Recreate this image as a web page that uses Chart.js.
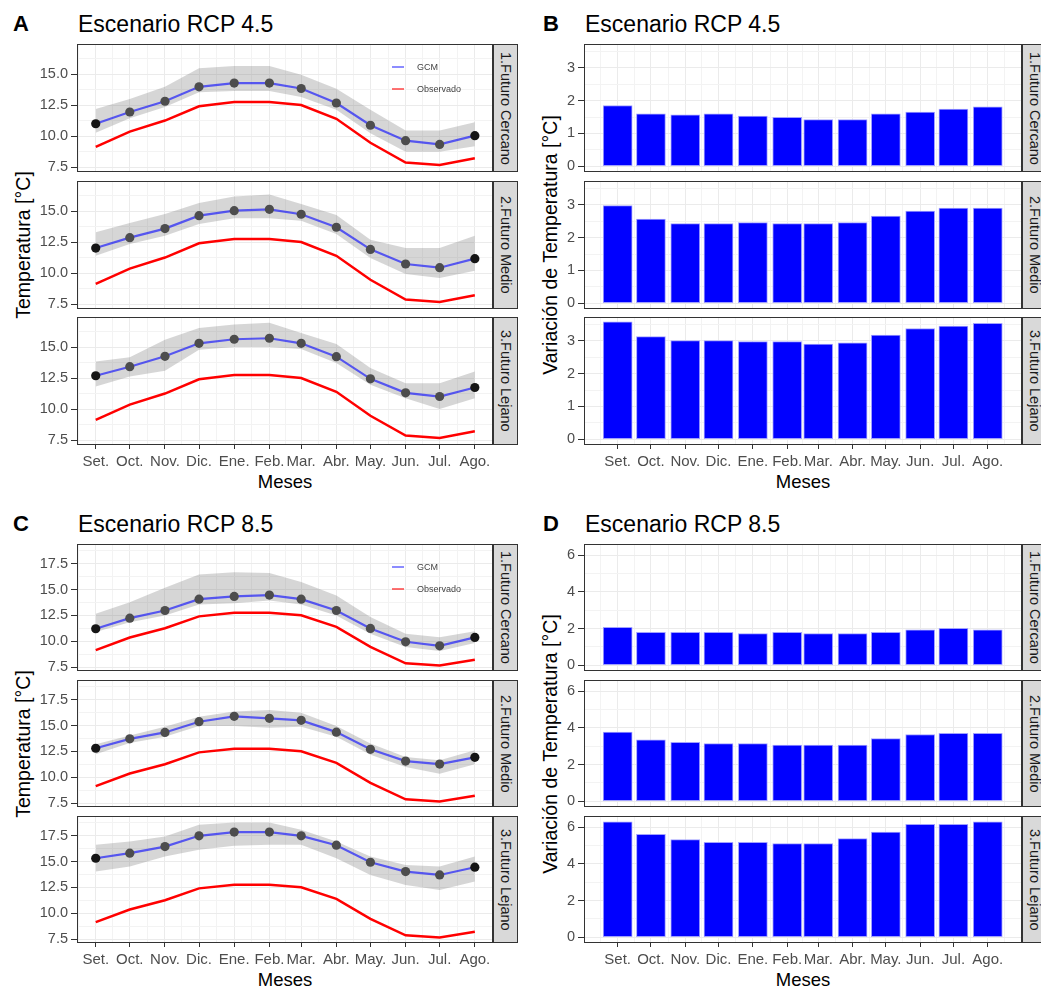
<!DOCTYPE html>
<html lang="es">
<head>
<meta charset="utf-8">
<title>Escenarios RCP 4.5 y 8.5</title>
<script src="https://cdn.jsdelivr.net/npm/chart.js@4.4.0/dist/chart.umd.min.js"></script>
<style>
  body { margin: 0; background: #fff; font-family: "Liberation Sans", Arial, sans-serif; }
  #fig { position: relative; width: 1041px; height: 989px; overflow: hidden; background: #fff; }
  .txt { position: absolute; white-space: nowrap; line-height: 1; color: #000; }
  .letra { font-size: 22px; font-weight: bold; transform: translateY(-50%); }
  .titulo { font-size: 23px; transform: translateY(-50%); }
  .ytit { font-size: 19.5px; transform: translate(-50%, -50%) rotate(-90deg); }
  .xtit { font-size: 18.5px; transform: translate(-50%, -50%); }
  .strip {
    position: absolute; box-sizing: border-box; background: #D9D9D9; border: 1px solid #333;
    display: flex; align-items: center; justify-content: center;
  }
  .strip span { writing-mode: vertical-rl; font-size: 14.5px; color: #1A1A1A; white-space: nowrap; }
  .clave { position: absolute; width: 12px; height: 2px; }
  .ley { font-size: 9px; color: #444; transform: translateY(-50%); }
</style>
</head>
<body>
<div id="fig"></div>
<script>
'use strict';

// ---- Datos ----

const MESES = ['Set.', 'Oct.', 'Nov.', 'Dic.', 'Ene.', 'Feb.', 'Mar.', 'Abr.', 'May.', 'Jun.', 'Jul.', 'Ago.'];
// días desde el 1 de setiembre (el eje x es de fechas)
const DIAS = [0, 30, 61, 91, 122, 153, 181, 212, 242, 273, 303, 334];
const FACETAS = ['1.Futuro Cercano', '2.Futuro Medio', '3.Futuro Lejano'];

const OBSERVADO = [9.14, 10.36, 11.26, 12.41, 12.76, 12.76, 12.52, 11.4, 9.46, 7.86, 7.66, 8.21];

// RCP 4.5 - temperatura media GCM y rango del ensamble
const GCM45_CERCANO     = [11.0, 11.95, 12.82, 13.99, 14.29, 14.29, 13.85, 12.68, 10.88, 9.63, 9.33, 10.04];
const GCM45_CERCANO_MAX = [12.19, 13.0, 14.0, 15.49, 15.68, 15.68, 14.97, 13.83, 12.14, 10.45, 10.45, 11.13];
const GCM45_CERCANO_MIN = [10.28, 11.45, 12.35, 13.55, 13.64, 13.64, 13.17, 12.14, 10.23, 8.73, 8.73, 9.19];
const GCM45_MEDIO       = [12.03, 12.87, 13.6, 14.65, 15.05, 15.16, 14.76, 13.71, 11.92, 10.74, 10.44, 11.17];
const GCM45_MEDIO_MAX   = [13.3, 14.06, 14.78, 15.67, 16.19, 16.35, 15.59, 14.7, 12.7, 12.03, 12.03, 13.03];
const GCM45_MEDIO_MIN   = [11.41, 12.36, 13.03, 13.97, 14.43, 14.43, 14.24, 13.17, 11.22, 9.93, 9.6, 10.2];
const GCM45_LEJANO      = [12.7, 13.43, 14.27, 15.32, 15.65, 15.73, 15.32, 14.24, 12.45, 11.32, 11.02, 11.75];
const GCM45_LEJANO_MAX  = [13.86, 14.19, 15.62, 16.57, 16.84, 16.98, 16.16, 15.27, 13.32, 12.1, 12.1, 13.05];
const GCM45_LEJANO_MIN  = [11.83, 12.64, 13.1, 14.81, 15.03, 15.03, 14.86, 13.73, 11.97, 10.88, 10.02, 10.88];

// RCP 8.5
const GCM85_CERCANO     = [11.21, 12.24, 12.98, 14.08, 14.34, 14.47, 14.08, 12.98, 11.24, 9.95, 9.56, 10.37];
const GCM85_CERCANO_MAX = [12.66, 13.79, 15.18, 16.47, 16.69, 16.6, 15.73, 14.44, 12.34, 10.73, 10.4, 10.98];
const GCM85_CERCANO_MIN = [10.89, 11.85, 12.5, 13.56, 13.69, 13.95, 13.56, 12.5, 10.73, 9.44, 9.05, 9.82];
const GCM85_MEDIO       = [12.81, 13.72, 14.34, 15.38, 15.9, 15.71, 15.51, 14.37, 12.71, 11.57, 11.28, 11.93];
const GCM85_MEDIO_MAX   = [13.2, 14.05, 14.89, 15.87, 16.36, 16.52, 16.26, 14.96, 13.27, 11.96, 11.64, 12.62];
const GCM85_MEDIO_MIN   = [12.22, 13.33, 13.92, 14.96, 14.96, 14.8, 14.89, 13.92, 12.19, 10.99, 10.33, 11.25];
const GCM85_LEJANO      = [15.33, 15.82, 16.46, 17.5, 17.86, 17.86, 17.5, 16.59, 14.94, 14.04, 13.71, 14.46];
const GCM85_LEJANO_MAX  = [16.63, 16.95, 17.44, 18.57, 18.79, 18.79, 18.08, 16.95, 15.49, 14.68, 14.52, 15.49];
const GCM85_LEJANO_MIN  = [14.04, 14.52, 15.49, 16.14, 16.53, 16.63, 16.63, 15.33, 13.71, 12.74, 12.26, 13.07];

// Variación de temperatura respecto al observado
const VAR45_CERCANO = [1.85, 1.6, 1.57, 1.6, 1.53, 1.49, 1.42, 1.42, 1.6, 1.65, 1.74, 1.81];
const VAR45_MEDIO   = [2.98, 2.57, 2.43, 2.43, 2.46, 2.43, 2.43, 2.46, 2.66, 2.81, 2.9, 2.9];
const VAR45_LEJANO  = [3.58, 3.13, 3.01, 3.01, 2.98, 2.98, 2.9, 2.94, 3.18, 3.38, 3.45, 3.54];
const VAR85_CERCANO = [2.06, 1.79, 1.79, 1.79, 1.72, 1.79, 1.72, 1.72, 1.79, 1.93, 2.01, 1.93];
const VAR85_MEDIO   = [3.78, 3.35, 3.21, 3.14, 3.14, 3.06, 3.06, 3.06, 3.42, 3.64, 3.71, 3.71];
const VAR85_LEJANO  = [6.3, 5.62, 5.33, 5.18, 5.18, 5.11, 5.11, 5.38, 5.74, 6.16, 6.16, 6.3];

const Y_TEMP45 = [7.5, 10, 12.5, 15];
const Y_TEMP85 = [7.5, 10, 12.5, 15, 17.5];
const Y_VAR45  = [0, 1, 2, 3];
const Y_VAR85  = [0, 2, 4, 6];

// ---- Layout ----

const COLS = [
  { x: 77, w: 416, letraX: 13, ytitX: 24 },
  { x: 584, w: 438, letraX: 543, ytitX: 551 },
];
const FILAS = [
  { tops: [44, 181, 317], h: 128, tituloY: 23.5, mesesY: 482 },
  { tops: [544, 680, 816], h: 127, tituloY: 523.5, mesesY: 980 },
];
const STRIP_W = 25;
const YW = 52, XH = 28, PT = 2, PR = 2;
const X_LINEA = [-16.5, 350];
const X_BARRA = [-30.4, 364.9];

const PANELES = [
  { letra: 'A', titulo: 'Escenario RCP 4.5', tipo: 'linea', col: 0, fila: 0, ytit: 'Temperatura [°C]',
    y: [7.1, 17.45], mayores: Y_TEMP45, dec: 1,
    series: [[GCM45_CERCANO, GCM45_CERCANO_MIN, GCM45_CERCANO_MAX],
             [GCM45_MEDIO, GCM45_MEDIO_MIN, GCM45_MEDIO_MAX],
             [GCM45_LEJANO, GCM45_LEJANO_MIN, GCM45_LEJANO_MAX]] },
  { letra: 'B', titulo: 'Escenario RCP 4.5', tipo: 'barra', col: 1, fila: 0, ytit: 'Variación de Temperatura [°C]',
    y: [-0.18, 3.73], mayores: Y_VAR45, dec: 0,
    series: [VAR45_CERCANO, VAR45_MEDIO, VAR45_LEJANO] },
  { letra: 'C', titulo: 'Escenario RCP 8.5', tipo: 'linea', col: 0, fila: 1, ytit: 'Temperatura [°C]',
    y: [7.12, 19.42], mayores: Y_TEMP85, dec: 1,
    series: [[GCM85_CERCANO, GCM85_CERCANO_MIN, GCM85_CERCANO_MAX],
             [GCM85_MEDIO, GCM85_MEDIO_MIN, GCM85_MEDIO_MAX],
             [GCM85_LEJANO, GCM85_LEJANO_MIN, GCM85_LEJANO_MAX]] },
  { letra: 'D', titulo: 'Escenario RCP 8.5', tipo: 'barra', col: 1, fila: 1, ytit: 'Variación de Temperatura [°C]',
    y: [-0.32, 6.62], mayores: Y_VAR85, dec: 0,
    series: [VAR85_CERCANO, VAR85_MEDIO, VAR85_LEJANO] },
];

const fig = document.getElementById('fig');
Chart.defaults.font.family = '"Liberation Sans", Arial, sans-serif';

// ---- Helpers ----

function texto(cls, str, x, y) {
  const el = document.createElement('div');
  el.className = 'txt ' + cls;
  el.textContent = str;
  el.style.left = x + 'px';
  el.style.top = y + 'px';
  fig.appendChild(el);
  return el;
}

function puntos(arr) {
  return DIAS.map((d, i) => ({ x: d, y: arr[i] }));
}

// marcas menores a mitad de camino entre las mayores
function conMenores(mayores, min, max) {
  const paso = mayores[1] - mayores[0];
  const ext = [mayores[0] - paso, ...mayores, mayores[mayores.length - 1] + paso];
  const todas = [];
  for (let i = 0; i < ext.length; i++) {
    todas.push(ext[i]);
    if (i < ext.length - 1) todas.push((ext[i] + ext[i + 1]) / 2);
  }
  return todas.filter(v => v >= min && v <= max);
}

const X_MAYORES = [-31, ...DIAS, 365];

const marcoPanel = {
  id: 'marcoPanel',
  afterDraw(chart) {
    const a = chart.chartArea, ctx = chart.ctx;
    ctx.save();
    ctx.strokeStyle = '#333333';
    ctx.lineWidth = 1;
    ctx.strokeRect(a.left + 0.5, a.top + 0.5, a.right - a.left - 1, a.bottom - a.top - 1);
    ctx.restore();
  },
};

const valorTick = c => (c && c.tick ? c.tick.value : NaN);

// ---- Facetas ----

function crearFaceta(p, k) {
  const col = COLS[p.col], fila = FILAS[p.fila];
  const abajo = k === 2;
  const top = fila.tops[k];
  const xh = abajo ? XH : 0;
  const w = YW + col.w + PR, h = PT + fila.h + xh;

  const canvas = document.createElement('canvas');
  canvas.width = w;
  canvas.height = h;
  canvas.style.cssText = `position:absolute;left:${col.x - YW}px;top:${top - PT}px;width:${w}px;height:${h}px`;
  fig.appendChild(canvas);

  const xr = p.tipo === 'linea' ? X_LINEA : X_BARRA;
  const xTicks = conMenores(X_MAYORES, xr[0], xr[1]);
  const yTicks = conMenores(p.mayores, p.y[0], p.y[1]);
  const esMayorX = v => X_MAYORES.includes(v);
  const esMayorY = v => p.mayores.includes(v);

  let datasets;
  if (p.tipo === 'linea') {
    const [media, lo, hi] = p.series[k];
    datasets = [
      {
        label: 'GCM', data: puntos(media),
        borderColor: 'rgba(0,0,255,0.6)', borderWidth: 2.2,
        pointRadius: 4.6, pointBorderWidth: 0,
        pointBackgroundColor: c => (c.dataIndex === 0 || c.dataIndex === DIAS.length - 1) ? '#151515' : '#4D4D4D',
        tension: 0, fill: false,
      },
      {
        label: 'Observado', data: puntos(OBSERVADO),
        borderColor: '#FF0000', borderWidth: 2.5, pointRadius: 0, tension: 0, fill: false,
      },
      {
        label: 'max', data: puntos(hi), borderWidth: 0, pointRadius: 0, tension: 0,
        backgroundColor: 'rgba(120,120,120,0.3)', fill: '+1',
      },
      {
        label: 'min', data: puntos(lo), borderWidth: 0, pointRadius: 0, tension: 0, fill: false,
      },
    ];
  } else {
    datasets = [{
      label: 'Variación', data: puntos(p.series[k]),
      backgroundColor: '#0000FF', borderColor: '#A0A0FF', borderWidth: 1,
      barThickness: 29, borderSkipped: false,
    }];
  }

  new Chart(canvas, {
    type: p.tipo === 'linea' ? 'line' : 'bar',
    data: { datasets },
    plugins: [marcoPanel],
    options: {
      responsive: false,
      devicePixelRatio: 1,
      animation: false,
      events: [],
      layout: { autoPadding: false, padding: { top: PT, right: PR, left: 0, bottom: 0 } },
      plugins: { legend: { display: false }, tooltip: { enabled: false } },
      scales: {
        x: {
          type: 'linear', min: xr[0], max: xr[1], offset: false,
          afterBuildTicks: s => { s.ticks = xTicks.map(v => ({ value: v })); },
          afterFit: s => { s.height = xh; s.paddingLeft = 0; s.paddingRight = 0; },
          ticks: {
            display: abajo, autoSkip: false, maxRotation: 0, minRotation: 0,
            padding: 4, color: '#4D4D4D', font: { size: 15 },
            callback: v => { const i = DIAS.indexOf(v); return i >= 0 ? MESES[i] : ''; },
          },
          grid: {
            offset: false,
            color: c => esMayorX(valorTick(c)) ? '#EBEBEB' : '#F3F3F3',
            lineWidth: 1,
            drawTicks: abajo, tickLength: 4,
            tickColor: c => DIAS.includes(valorTick(c)) ? '#333333' : 'rgba(0,0,0,0)',
          },
          border: { display: false },
        },
        y: {
          type: 'linear', min: p.y[0], max: p.y[1],
          afterBuildTicks: s => { s.ticks = yTicks.map(v => ({ value: v })); },
          afterFit: s => { s.width = YW; s.paddingTop = 0; s.paddingBottom = 0; },
          ticks: {
            autoSkip: false, padding: 3, color: '#4D4D4D', font: { size: 14.5 },
            callback: v => esMayorY(v) ? v.toFixed(p.dec) : '',
          },
          grid: {
            color: c => esMayorY(valorTick(c)) ? '#EBEBEB' : '#F3F3F3',
            lineWidth: 1,
            tickLength: 6,
            tickColor: c => esMayorY(valorTick(c)) ? '#333333' : 'rgba(0,0,0,0)',
          },
          border: { display: false },
        },
      },
    },
  });

  // etiqueta de la faceta
  const strip = document.createElement('div');
  strip.className = 'strip';
  strip.style.cssText = `left:${col.x + col.w}px;top:${top}px;width:${STRIP_W}px;height:${fila.h}px`;
  const sp = document.createElement('span');
  sp.textContent = FACETAS[k];
  strip.appendChild(sp);
  fig.appendChild(strip);

  // leyenda dentro del primer panel de temperaturas
  if (p.tipo === 'linea' && k === 0) {
    [['GCM', 'rgba(0,0,255,0.45)', 22.5], ['Observado', 'rgba(255,0,0,0.55)', 44.5]].forEach(([nom, color, dy]) => {
      const clave = document.createElement('div');
      clave.className = 'clave';
      clave.style.left = (col.x + 315) + 'px';
      clave.style.top = (top + dy - 1) + 'px';
      clave.style.background = color;
      fig.appendChild(clave);
      texto('ley', nom, col.x + 340, top + dy);
    });
  }
}

// ---- Init ----

PANELES.forEach(p => {
  const col = COLS[p.col], fila = FILAS[p.fila];
  texto('letra', p.letra, col.letraX, fila.tituloY);
  texto('titulo', p.titulo, col.x + 1, fila.tituloY);
  const centroY = (fila.tops[0] + fila.tops[2] + fila.h) / 2;
  texto('ytit', p.ytit, col.ytitX, centroY);
  texto('xtit', 'Meses', col.x + col.w / 2, fila.mesesY);
  for (let k = 0; k < 3; k++) crearFaceta(p, k);
});
</script>
</body>
</html>
